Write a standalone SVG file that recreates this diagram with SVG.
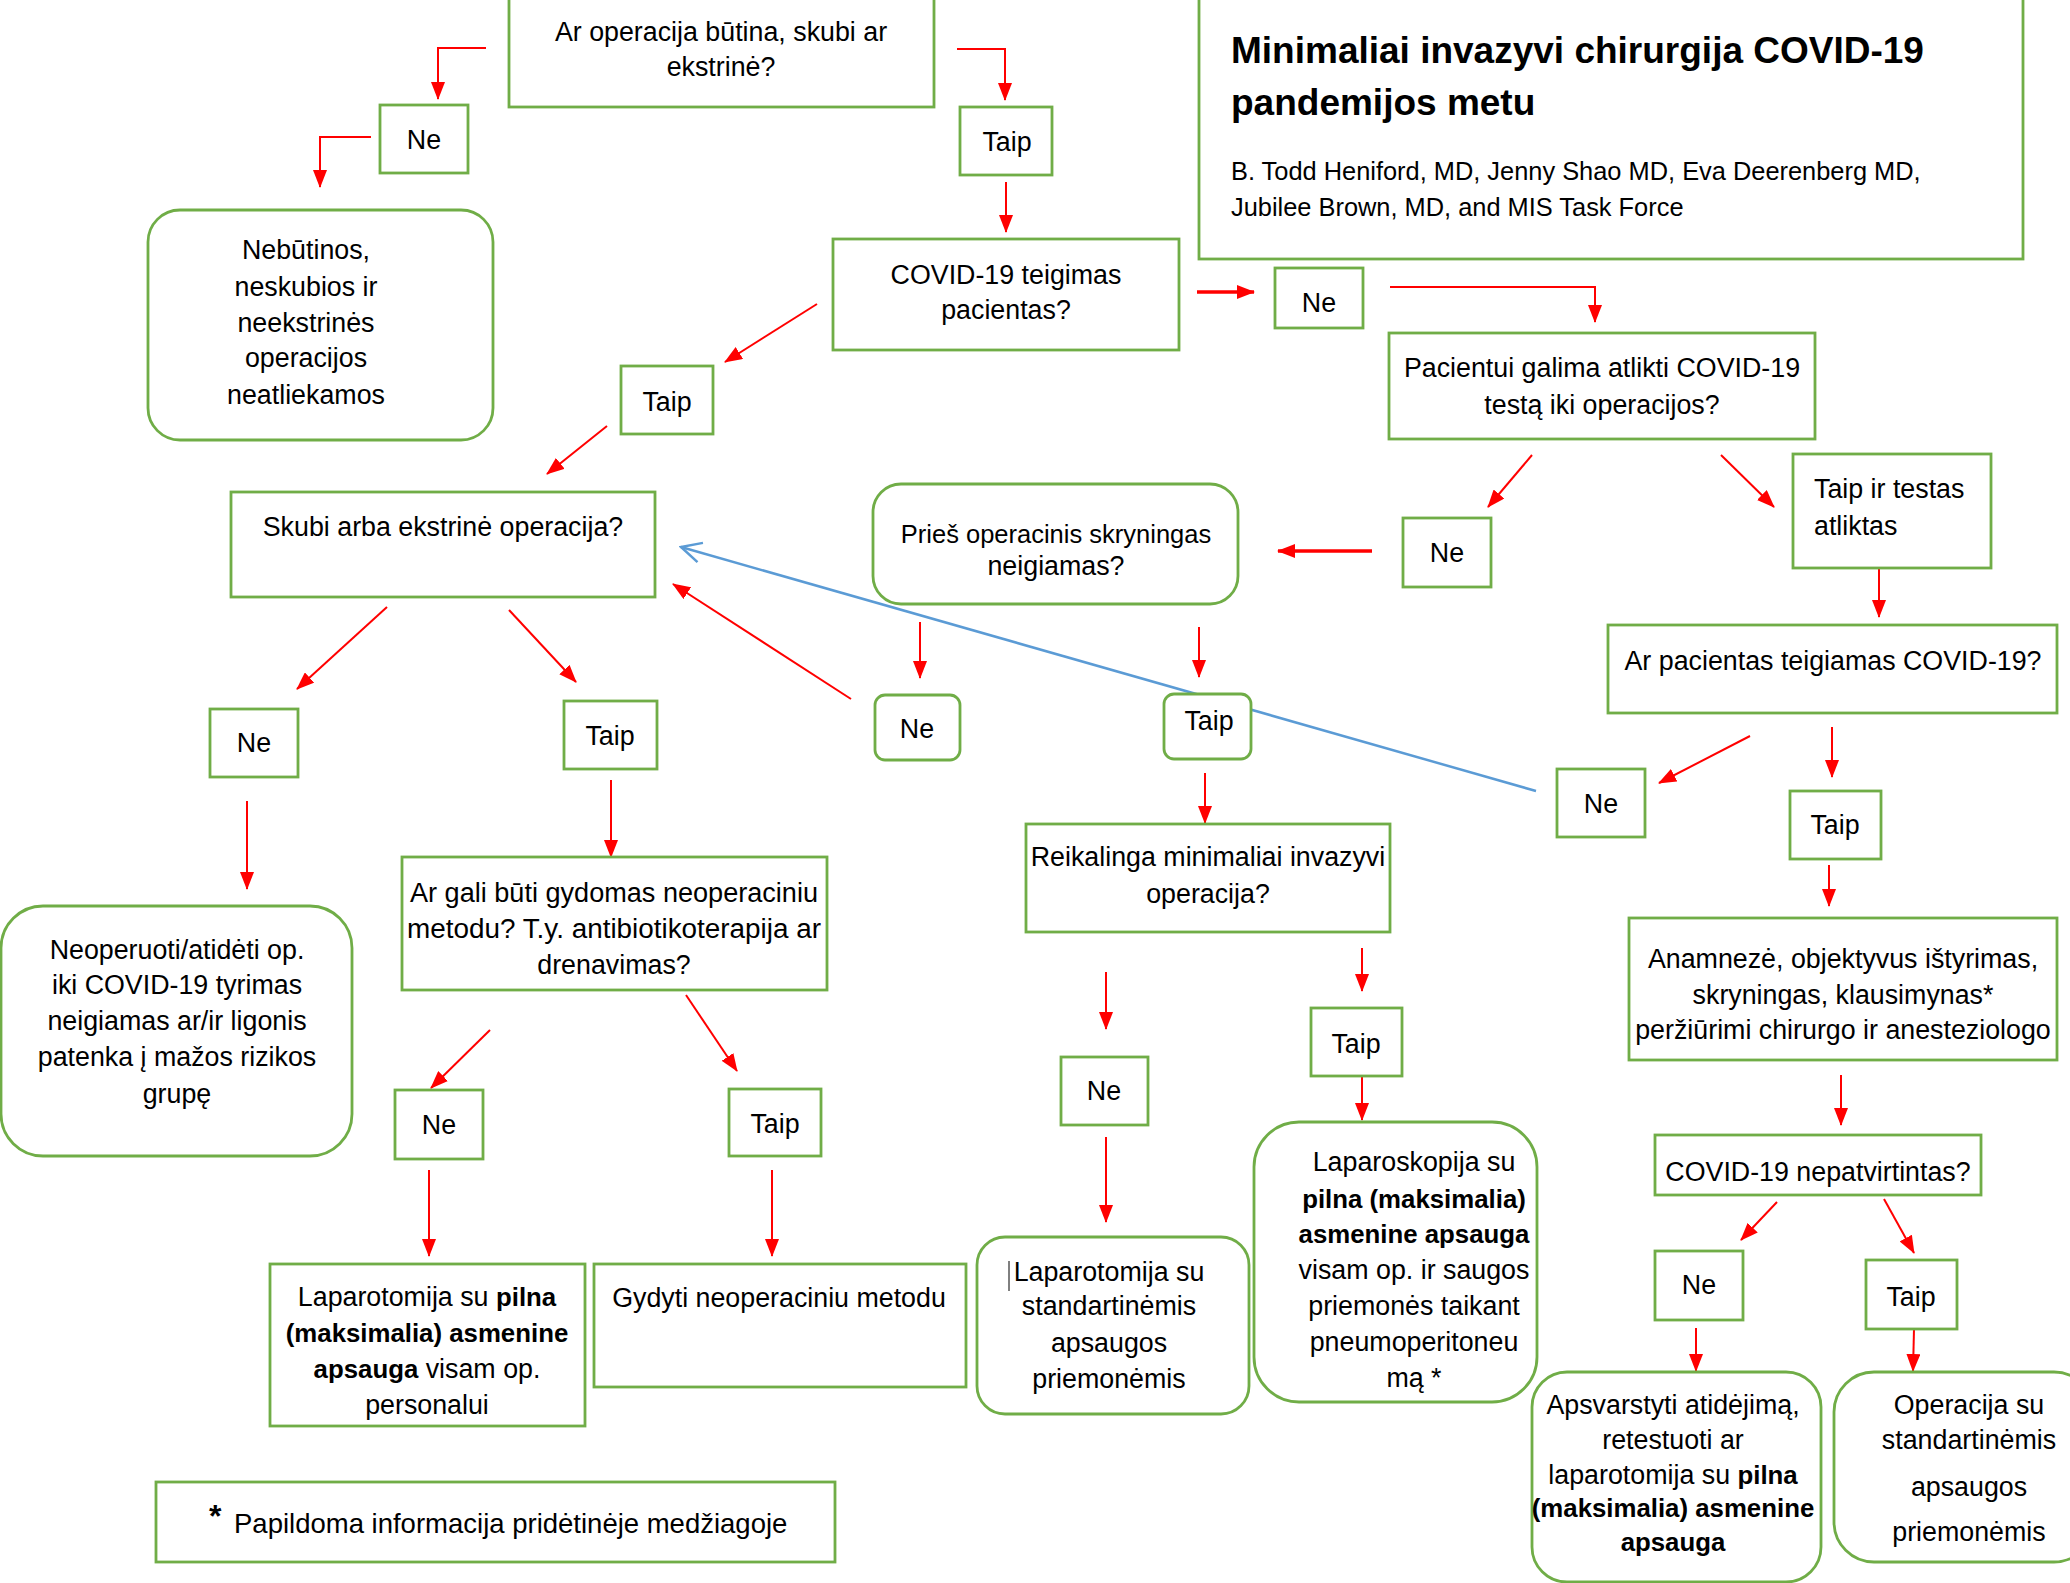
<svg xmlns="http://www.w3.org/2000/svg" width="2070" height="1583" viewBox="0 0 2070 1583">
<style>
.b{fill:#fff;stroke:#70AD47;stroke-width:2.8}
.t{font-family:"Liberation Sans",Arial,sans-serif;font-size:26.8px;fill:#000;text-anchor:middle}
.l{text-anchor:start}
.bd{font-weight:bold;font-size:25.8px}
.c{stroke:#FF0000;stroke-width:2;fill:none;marker-end:url(#ah)}
.k{stroke-width:3.5}
.bl{stroke:#5B9BD5;stroke-width:2.5;fill:none;marker-end:url(#bh)}
</style>
<defs>
<marker id="ah" markerUnits="userSpaceOnUse" markerWidth="18" markerHeight="14" refX="17" refY="7" orient="auto"><path d="M0,0 L18,7 L0,14 z" fill="#FF0000"/></marker>
<marker id="bh" markerUnits="userSpaceOnUse" markerWidth="24" markerHeight="24" refX="22" refY="12" orient="auto"><path d="M2,2 L22,12 L2,22" fill="none" stroke="#5B9BD5" stroke-width="2.5"/></marker>
</defs>
<rect width="2070" height="1583" fill="#fff"/>
<g id="connectors">
<polyline class="c" points="486,48 438,48 438,99"/>
<polyline class="c" points="371,137 320,137 320,187"/>
<polyline class="c" points="957,49 1005,49 1005,100"/>
<line class="c" x1="1006" y1="182" x2="1006" y2="232"/>
<line class="c" x1="817" y1="304" x2="725" y2="362"/>
<line class="c" x1="607" y1="426" x2="547" y2="474"/>
<line class="c k" x1="1197" y1="292" x2="1254" y2="292"/>
<polyline class="c" points="1390,287 1595,287 1595,322"/>
<line class="c" x1="1532" y1="455" x2="1488" y2="507"/>
<line class="c" x1="1721" y1="455" x2="1774" y2="507"/>
<line class="c k" x1="1372" y1="551" x2="1278" y2="551"/>
<line class="c" x1="1879" y1="568" x2="1879" y2="617"/>
<line class="c" x1="387" y1="607" x2="297" y2="689"/>
<line class="c" x1="509" y1="610" x2="576" y2="682"/>
<line class="c" x1="851" y1="699" x2="673" y2="584"/>
<line class="c" x1="920" y1="622" x2="920" y2="678"/>
<line class="c" x1="1199" y1="627" x2="1199" y2="677"/>
<line class="bl" x1="1536" y1="791" x2="681" y2="547"/>
<line class="c" x1="1205" y1="773" x2="1205" y2="823"/>
<line class="c" x1="1750" y1="736" x2="1659" y2="783"/>
<line class="c" x1="1832" y1="727" x2="1832" y2="777"/>
<line class="c" x1="1829" y1="865" x2="1829" y2="906"/>
<line class="c" x1="1841" y1="1075" x2="1841" y2="1125"/>
<line class="c" x1="1777" y1="1202" x2="1741" y2="1240"/>
<line class="c" x1="1884" y1="1199" x2="1914" y2="1253"/>
<line class="c" x1="1696" y1="1328" x2="1696" y2="1371"/>
<line class="c" x1="1914" y1="1329" x2="1913" y2="1371"/>
<line class="c" x1="1362" y1="948" x2="1362" y2="991"/>
<line class="c" x1="1362" y1="1076" x2="1362" y2="1120"/>
<line class="c" x1="1106" y1="972" x2="1106" y2="1029"/>
<line class="c" x1="1106" y1="1137" x2="1106" y2="1222"/>
<line class="c" x1="611" y1="780" x2="611" y2="857"/>
<line class="c" x1="247" y1="801" x2="247" y2="889"/>
<line class="c" x1="490" y1="1030" x2="431" y2="1088"/>
<line class="c" x1="686" y1="995" x2="737" y2="1071"/>
<line class="c" x1="429" y1="1170" x2="429" y2="1256"/>
<line class="c" x1="772" y1="1170" x2="772" y2="1256"/>
</g>
<g id="n1"><rect class="b" x="509" y="-5" width="425" height="112"/><text class="t" x="721" y="41">Ar operacija būtina, skubi ar</text><text class="t" x="721" y="76">ekstrinė?</text></g>
<g id="n2"><rect class="b" x="380" y="105" width="88" height="68"/><text class="t" x="424" y="149">Ne</text></g>
<g id="n3"><rect class="b" x="960" y="107" width="92" height="68"/><text class="t" x="1007" y="151">Taip</text></g>
<g id="n4"><rect class="b" x="148" y="210" width="345" height="230" rx="32"/><text class="t" x="306" y="259">Nebūtinos,</text><text class="t" x="306" y="296">neskubios ir</text><text class="t" x="306" y="332">neekstrinės</text><text class="t" x="306" y="367">operacijos</text><text class="t" x="306" y="404">neatliekamos</text></g>
<g id="n5"><rect class="b" x="833" y="239" width="346" height="111"/><text class="t" x="1006" y="284">COVID-19 teigimas</text><text class="t" x="1006" y="319">pacientas?</text></g>
<g id="n6"><rect class="b" x="621" y="366" width="92" height="68"/><text class="t" x="667" y="411">Taip</text></g>
<g id="n7"><rect class="b" x="1199" y="-5" width="824" height="264"/><text class="t l" x="1231" y="63" style="font-size:37px;font-weight:bold">Minimaliai invazyvi chirurgija COVID-19</text><text class="t l" x="1231" y="115" style="font-size:37px;font-weight:bold">pandemijos metu</text><text class="t l" x="1231" y="180" style="font-size:25.4px">B. Todd Heniford, MD, Jenny Shao MD, Eva Deerenberg MD,</text><text class="t l" x="1231" y="216" style="font-size:25.4px">Jubilee Brown, MD, and MIS Task Force</text></g>
<g id="n8"><rect class="b" x="1275" y="268" width="88" height="60"/><text class="t" x="1319" y="312">Ne</text></g>
<g id="n9"><rect class="b" x="1389" y="333" width="426" height="106"/><text class="t" x="1602" y="377">Pacientui galima atlikti COVID-19</text><text class="t" x="1602" y="414">testą iki operacijos?</text></g>
<g id="n10"><rect class="b" x="1793" y="454" width="198" height="114"/><text class="t l" x="1814" y="498">Taip ir testas</text><text class="t l" x="1814" y="535">atliktas</text></g>
<g id="n11"><rect class="b" x="1403" y="518" width="88" height="69"/><text class="t" x="1447" y="562">Ne</text></g>
<g id="n12"><rect class="b" x="873" y="484" width="365" height="120" rx="28"/><text class="t" x="1056" y="543" style="font-size:25.5px">Prieš operacinis skryningas</text><text class="t" x="1056" y="575">neigiamas?</text></g>
<g id="n13"><rect class="b" x="1608" y="625" width="449" height="88"/><text class="t" x="1833" y="670">Ar pacientas teigiamas COVID-19?</text></g>
<g id="n14"><rect class="b" x="231" y="492" width="424" height="105"/><text class="t" x="443" y="536">Skubi arba ekstrinė operacija?</text></g>
<g id="n15"><rect class="b" x="210" y="709" width="88" height="68"/><text class="t" x="254" y="752">Ne</text></g>
<g id="n16"><rect class="b" x="564" y="701" width="93" height="68"/><text class="t" x="610" y="745">Taip</text></g>
<g id="n17"><rect class="b" x="875" y="695" width="85" height="65" rx="10"/><text class="t" x="917" y="738">Ne</text></g>
<g id="n18"><rect class="b" x="1164" y="694" width="87" height="65" rx="10"/><text class="t" x="1209" y="730">Taip</text></g>
<g id="n19"><rect class="b" x="1026" y="824" width="364" height="108"/><text class="t" x="1208" y="866">Reikalinga minimaliai invazyvi</text><text class="t" x="1208" y="903">operacija?</text></g>
<g id="n20"><rect class="b" x="1557" y="769" width="88" height="68"/><text class="t" x="1601" y="813">Ne</text></g>
<g id="n21"><rect class="b" x="1790" y="791" width="91" height="68"/><text class="t" x="1835" y="834">Taip</text></g>
<g id="n22"><rect class="b" x="1629" y="918" width="428" height="142"/><text class="t" x="1843" y="968">Anamnezė, objektyvus ištyrimas,</text><text class="t" x="1843" y="1004">skryningas, klausimynas*</text><text class="t" x="1843" y="1039">peržiūrimi chirurgo ir anesteziologo</text></g>
<g id="n23"><rect class="b" x="1655" y="1135" width="326" height="60"/><text class="t" x="1818" y="1181">COVID-19 nepatvirtintas?</text></g>
<g id="n24"><rect class="b" x="1655" y="1251" width="88" height="69"/><text class="t" x="1699" y="1294">Ne</text></g>
<g id="n25"><rect class="b" x="1866" y="1260" width="91" height="69"/><text class="t" x="1911" y="1306">Taip</text></g>
<g id="n26"><rect class="b" x="1532" y="1372" width="289" height="210" rx="35"/><text class="t" x="1673" y="1414">Apsvarstyti atidėjimą,</text><text class="t" x="1673" y="1449">retestuoti ar</text><text class="t" x="1673" y="1484">laparotomija su <tspan class="bd">pilna</tspan></text><text class="t bd" x="1673" y="1517">(maksimalia) asmenine</text><text class="t bd" x="1673" y="1551">apsauga</text></g>
<g id="n27"><rect class="b" x="1834" y="1372" width="260" height="190" rx="40"/><text class="t" x="1969" y="1414">Operacija su</text><text class="t" x="1969" y="1449">standartinėmis</text><text class="t" x="1969" y="1496">apsaugos</text><text class="t" x="1969" y="1541">priemonėmis</text></g>
<g id="n28"><rect class="b" x="1254" y="1122" width="283" height="280" rx="45"/><text class="t" x="1414" y="1171">Laparoskopija su</text><text class="t bd" x="1414" y="1208">pilna (maksimalia)</text><text class="t bd" x="1414" y="1243">asmenine apsauga</text><text class="t" x="1414" y="1279">visam op. ir saugos</text><text class="t" x="1414" y="1315">priemonės taikant</text><text class="t" x="1414" y="1351">pneumoperitoneu</text><text class="t" x="1414" y="1387">mą *</text></g>
<g id="n29"><rect class="b" x="1061" y="1057" width="87" height="68"/><text class="t" x="1104" y="1100">Ne</text></g>
<g id="n30"><rect class="b" x="1311" y="1008" width="91" height="68"/><text class="t" x="1356" y="1053">Taip</text></g>
<g id="n31"><rect class="b" x="977" y="1237" width="272" height="177" rx="28"/><line x1="1009" y1="1261" x2="1009" y2="1291" stroke="#000" stroke-width="1"/><text class="t" x="1109" y="1281">Laparotomija su</text><text class="t" x="1109" y="1315">standartinėmis</text><text class="t" x="1109" y="1352">apsaugos</text><text class="t" x="1109" y="1388">priemonėmis</text></g>
<g id="n32"><rect class="b" x="402" y="857" width="425" height="133"/><text class="t" x="614" y="902" textLength="408" lengthAdjust="spacingAndGlyphs">Ar gali būti gydomas neoperaciniu</text><text class="t" x="614" y="938" textLength="414" lengthAdjust="spacingAndGlyphs">metodu? T.y. antibiotikoterapija ar</text><text class="t" x="614" y="974">drenavimas?</text></g>
<g id="n33"><rect class="b" x="1" y="906" width="351" height="250" rx="42"/><text class="t" x="177" y="959">Neoperuoti/atidėti op.</text><text class="t" x="177" y="994">iki COVID-19 tyrimas</text><text class="t" x="177" y="1030">neigiamas ar/ir ligonis</text><text class="t" x="177" y="1066">patenka į mažos rizikos</text><text class="t" x="177" y="1103">grupę</text></g>
<g id="n34"><rect class="b" x="395" y="1090" width="88" height="69"/><text class="t" x="439" y="1134">Ne</text></g>
<g id="n35"><rect class="b" x="729" y="1089" width="92" height="67"/><text class="t" x="775" y="1133">Taip</text></g>
<g id="n36"><rect class="b" x="270" y="1264" width="315" height="162"/><text class="t" x="427" y="1306">Laparotomija su <tspan class="bd">pilna</tspan></text><text class="t bd" x="427" y="1342">(maksimalia) asmenine</text><text class="t" x="427" y="1378"><tspan class="bd">apsauga</tspan> visam op.</text><text class="t" x="427" y="1414">personalui</text></g>
<g id="n37"><rect class="b" x="594" y="1264" width="372" height="123"/><text class="t" x="779" y="1307">Gydyti neoperaciniu metodu</text></g>
<g id="n38"><rect class="b" x="156" y="1482" width="679" height="80"/><text class="t l" x="209" y="1527" style="font-size:32px;font-weight:bold">*</text><text class="t l" x="234" y="1533" style="font-size:27.5px">Papildoma informacija pridėtinėje medžiagoje</text></g>
</svg>
